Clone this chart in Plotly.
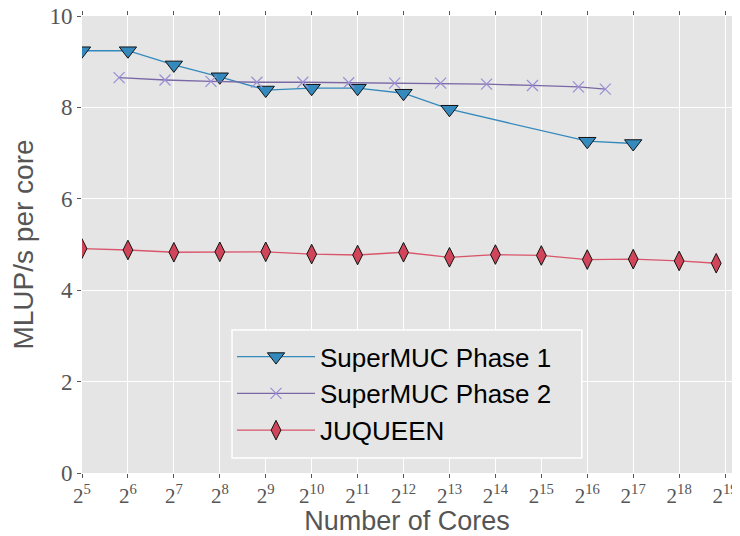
import plotly.graph_objects as go

# Data
p1_cores = [32, 64, 128, 256, 512, 1024, 2048, 4096, 8192, 65536, 131072]
p1_mlups = [9.24, 9.24, 8.93, 8.67, 8.38, 8.42, 8.42, 8.31, 7.96, 7.26, 7.21]

p2_cores = [56, 112, 224, 448, 896, 1792, 3584, 7168, 14336, 28672, 57344, 86016]
p2_mlups = [8.65, 8.60, 8.57, 8.55, 8.55, 8.54, 8.53, 8.53, 8.51, 8.48, 8.45, 8.40]

jq_cores = [32, 64, 128, 256, 512, 1024, 2048, 4096, 8192, 16384, 32768, 65536,
            131072, 262144, 458752]
jq_mlups = [4.91, 4.88, 4.83, 4.84, 4.84, 4.79, 4.77, 4.83, 4.72, 4.78, 4.76,
            4.67, 4.68, 4.64, 4.59]

x_exponents = list(range(5, 20))
x_tickvals = [2 ** k for k in x_exponents]
x_ticktext = ["2<sup>%d</sup>" % k for k in x_exponents]
y_tickvals = [0, 2, 4, 6, 8, 10]

fig = go.Figure()
fig.add_trace(go.Scatter(
    x=p1_cores, y=p1_mlups, mode="lines+markers", name="SuperMUC Phase 1",
    line=dict(color="#348ABD", width=1.3),
    marker=dict(symbol="triangle-down", size=15, color="#348ABD",
                line=dict(color="#111111", width=1)),
))
fig.add_trace(go.Scatter(
    x=p2_cores, y=p2_mlups, mode="lines+markers", name="SuperMUC Phase 2",
    line=dict(color="#7A68A6", width=1.3),
    marker=dict(symbol="x-thin", size=11, color="#988ED5",
                line=dict(color="#988ED5", width=1.2)),
))
fig.add_trace(go.Scatter(
    x=jq_cores, y=jq_mlups, mode="lines+markers", name="JUQUEEN",
    line=dict(color="#D9556A", width=1.3),
    marker=dict(symbol="diamond-tall", size=14, color="#D0455A",
                line=dict(color="#111111", width=1)),
))

# Legend frame (matplotlib-style box)
fig.add_shape(
    type="rect", xref="paper", yref="paper",
    x0=0.2308, x1=0.769, y0=0.0328, y1=0.3129,
    fillcolor="#E5E5E5", line=dict(color="white", width=1.5), layer="above",
)

# The page body has an 8px default margin, so the figure is offset to compensate.
fig.update_layout(
    width=740, height=528,
    margin=dict(l=74, r=16, t=8, b=63),
    paper_bgcolor="white",
    plot_bgcolor="#E5E5E5",
    showlegend=True,
    legend=dict(
        x=0.2308, y=0.306, xanchor="left", yanchor="top",
        bgcolor="rgba(0,0,0,0)", borderwidth=0,
        font=dict(family="Liberation Sans, Arial, sans-serif", size=26, color="black"),
        itemwidth=78, tracegroupgap=0,
    ),
)
fig.update_xaxes(
    type="log", automargin=False,
    range=[1.50515, 5.765],
    tickvals=x_tickvals, ticktext=x_ticktext,
    ticks="outside", ticklen=4, tickcolor="#555555", tickwidth=1,
    mirror="ticks", showline=False, zeroline=False,
    showgrid=True, gridcolor="white", gridwidth=1,
    ticklabeloverflow="allow",
    tickfont=dict(family="Liberation Serif, Times New Roman, serif", size=21, color="#555555"),
    title=dict(text="Number of Cores",
               font=dict(family="Liberation Sans, Arial, sans-serif", size=27, color="#555555"),
               standoff=13),
)
fig.update_yaxes(
    range=[0, 10], automargin=False,
    tickvals=y_tickvals,
    ticks="outside", ticklen=4, tickcolor="#555555", tickwidth=1,
    mirror="ticks", showline=False, zeroline=False,
    showgrid=True, gridcolor="white", gridwidth=1,
    ticklabeloverflow="allow",
    tickfont=dict(family="Liberation Serif, Times New Roman, serif", size=23, color="#555555"),
    title=dict(text="MLUP/s per core",
               font=dict(family="Liberation Sans, Arial, sans-serif", size=28, color="#555555"),
               standoff=12),
)

fig.write_html("out.html")
